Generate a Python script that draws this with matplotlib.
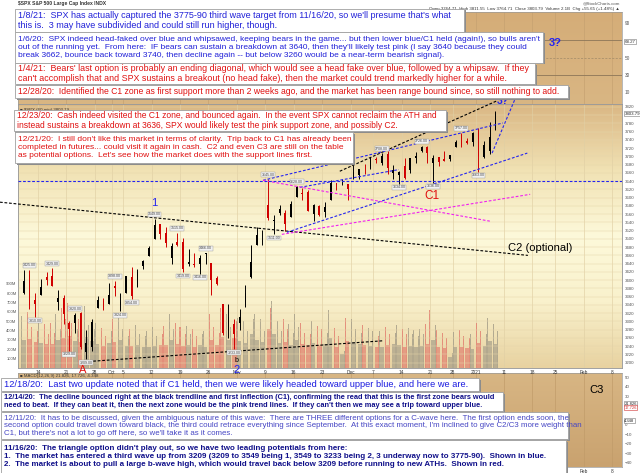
import numpy as np
import pandas as pd
import matplotlib
matplotlib.use("Agg")
import matplotlib.pyplot as plt
from matplotlib.patches import Rectangle
from matplotlib.colors import LinearSegmentedColormap

plt.rcParams['font.family'] = ['Liberation Sans', 'DejaVu Sans']

W, H = 640, 473

# daily summary of the 60 min SPX bars, 9 Sep 2020 .. 7 Jan 2021
opens = [3369, 3412, 3352, 3364, 3407, 3411, 3347, 3357, 3295, 3295, 3320, 3226, 3237, 3333, 3350, 3342,
         3385, 3339, 3368, 3408, 3384, 3434, 3459, 3500, 3535, 3515, 3453, 3493, 3493, 3439, 3439, 3439,
         3464, 3441, 3404, 3342, 3278, 3293,
         3297, 3336, 3407, 3485, 3509, 3583, 3544, 3563, 3563, 3553, 3601, 3611, 3613, 3560, 3579, 3566,
         3595, 3635, 3638, 3634,
         3645, 3654, 3668, 3671, 3694, 3683, 3706, 3659, 3656, 3676, 3666, 3696, 3714, 3722, 3684, 3698,
         3694, 3694, 3723, 3751, 3737, 3734,
         3764, 3699, 3713, 3764]
highs = [3424, 3425, 3368, 3403, 3419, 3429, 3375, 3363, 3300, 3320, 3323, 3279, 3307, 3361, 3357, 3393,
         3398, 3370, 3411, 3431, 3426, 3448, 3482, 3549, 3535, 3528, 3489, 3515, 3502, 3476, 3465, 3461,
         3466, 3441, 3410, 3342, 3342, 3305,
         3330, 3389, 3486, 3529, 3521, 3645, 3557, 3582, 3569, 3593, 3628, 3624, 3619, 3585, 3582, 3590,
         3643, 3635, 3644, 3634,
         3678, 3670, 3682, 3699, 3698, 3708, 3713, 3678, 3665, 3697, 3695, 3711, 3726, 3726, 3703, 3698,
         3712, 3704, 3740, 3757, 3744, 3760,
         3770, 3737, 3784, 3811]
lows = [3366, 3329, 3310, 3364, 3389, 3385, 3328, 3293, 3229, 3271, 3233, 3209, 3229, 3333, 3327, 3341,
        3361, 3324, 3368, 3354, 3384, 3428, 3458, 3500, 3500, 3480, 3440, 3483, 3419, 3435, 3433, 3416,
        3440, 3364, 3388, 3268, 3260, 3233,
        3280, 3336, 3405, 3485, 3485, 3547, 3511, 3557, 3519, 3553, 3601, 3594, 3567, 3543, 3556, 3553,
        3595, 3618, 3630, 3594,
        3645, 3644, 3657, 3670, 3684, 3678, 3657, 3645, 3634, 3645, 3660, 3685, 3710, 3685, 3636, 3677,
        3689, 3689, 3723, 3723, 3730, 3726,
        3663, 3695, 3705, 3764]
closes = [3399, 3339, 3341, 3384, 3401, 3385, 3357, 3319, 3281, 3316, 3237, 3247, 3298, 3352, 3335, 3363,
          3381, 3348, 3409, 3361, 3419, 3447, 3477, 3534, 3512, 3489, 3483, 3484, 3427, 3443, 3436, 3453,
          3465, 3401, 3391, 3271, 3310, 3270,
          3310, 3369, 3443, 3510, 3509, 3551, 3546, 3573, 3537, 3585, 3627, 3610, 3568, 3582, 3558, 3578,
          3635, 3630, 3638, 3622,
          3662, 3669, 3667, 3699, 3692, 3702, 3673, 3668, 3663, 3647, 3695, 3701, 3722, 3709, 3695, 3687,
          3690, 3703, 3735, 3727, 3732, 3756,
          3701, 3727, 3748, 3804]

# hourly volume in millions: opening hour, typical middle hour, closing hour
vol_first = [560, 600, 520, 500, 470, 480, 580, 640, 700, 560, 520, 660, 560, 480, 430, 500,
             520, 580, 430, 420, 460, 420, 400, 440, 460, 450, 580, 480, 440, 450, 420, 450,
             400, 580, 460, 640, 580, 620,
             540, 500, 720, 580, 520, 900, 720, 500, 520, 470, 580, 480, 450, 500, 450, 480,
             620, 430, 260, 540,
             520, 470, 460, 430, 410, 400, 440, 470, 460, 420, 430, 410, 420, 470, 580, 410,
             370, 200, 390, 410, 370, 360,
             480, 430, 540, 470]
vol_mid = [300, 310, 280, 270, 260, 260, 300, 320, 340, 290, 280, 330, 290, 260, 240, 270,
           280, 300, 240, 240, 250, 230, 220, 240, 250, 250, 300, 260, 240, 250, 230, 250,
           220, 300, 250, 330, 300, 320,
           290, 270, 360, 300, 280, 420, 360, 270, 280, 250, 300, 260, 250, 270, 250, 260,
           320, 230, 150, 290,
           280, 260, 250, 240, 230, 230, 250, 260, 250, 230, 240, 230, 240, 260, 300, 230,
           210, 120, 220, 230, 210, 200,
           270, 240, 290, 260]
vol_last = [420, 440, 400, 380, 360, 380, 420, 520, 480, 420, 420, 460, 420, 380, 340, 400,
            400, 420, 340, 380, 360, 340, 320, 340, 360, 360, 420, 440, 360, 360, 340, 360,
            340, 440, 380, 480, 440, 500,
            420, 400, 520, 440, 400, 640, 520, 400, 420, 380, 440, 380, 360, 400, 420, 380,
            460, 340, 180, 460,
            420, 380, 380, 400, 340, 340, 360, 380, 380, 360, 360, 340, 360, 620, 460, 360,
            320, 160, 320, 340, 320, 340,
            400, 360, 420, 400]

tick_dates = ["2020-09-14", "2020-09-21", "2020-09-28", "2020-10-01", "2020-10-05", "2020-10-12",
              "2020-10-19", "2020-10-26", "2020-11-02", "2020-11-09", "2020-11-16", "2020-11-23",
              "2020-12-01", "2020-12-07", "2020-12-14", "2020-12-21", "2020-12-28", "2021-01-04",
              "2021-01-11", "2021-01-19", "2021-01-25", "2021-02-01", "2021-02-08"]
tick_labels = ["14", "21", "28", "Oct", "5", "12", "19", "26", "Nov", "9", "16", "23",
               "Dec", "7", "14", "21", "28", "2021", "11", "18", "25", "Feb", "8"]

pivot_highs = ["2020-09-10", "2020-09-16", "2020-09-22", "2020-10-01", "2020-10-12", "2020-10-16",
               "2020-10-23", "2020-11-09", "2020-11-16", "2020-12-08", "2020-12-17", "2020-12-29"]
pivot_lows = ["2020-09-11", "2020-09-21", "2020-09-24", "2020-10-02", "2020-10-06", "2020-10-19",
              "2020-10-22", "2020-10-30", "2020-11-10", "2020-12-11", "2020-12-21", "2021-01-04"]

# trend lines drawn on the chart: colour, (day offsets from 14 Sep), (prices)
trend_lines = [
    ("black", (-6.7, 86.2), (3589, 3460)),
    ("black", (53.1, 80.8), (3664, 3835)),
    ("#2424f0", (39.6, 81.8), (3642, 3781)),
    ("#2424f0", (46.1, 63.5), (3625, 3668)),
    ("#2424f0", (43.8, 86.1), (3516, 3708)),
    ("#2424f0", (79.9, 86.8), (3708, 3932)),
    ("#f020f0", (39.6, 79.5), (3642, 3543)),
    ("#f020f0", (42.9, 86.6), (3511, 3608)),
    ("black", (8.1, 60.7), (3202, 3253)),
]
support_level = 3640

RED = "#e01010"
BLUE = "#2020d8"
NAVY = "#10108a"

boxes = [
    (15, 9, 464, 32, BLUE, 6.5, "normal", 1.12,
     "1/8/21:  SPX has actually captured the 3775-90 third wave target from 11/16/20, so we'll presume that's what\n"
     "this is.  3 may have subdivided and could still run higher, though."),
    (15, 32, 543, 63, BLUE, 6.05, "normal", 1.12,
     "1/6/20:  SPX indeed head-faked over blue and whipsawed, keeping bears in the game... but then lower blue/C1 held (again!), so bulls aren't\n"
     "out of the running yet.  From here:  IF bears can sustain a breakdown at 3640, then they'll likely test pink (I say 3640 because they could\n"
     "break 3662, bounce back toward 3740, then decline again -- but below 3260 would be a near-term bearish signal)."),
    (15, 63, 535, 84, RED, 6.4, "normal", 1.08,
     "1/4/21:  Bears' last option is probably an ending diagonal, which would see a head fake over blue, followed by a whipsaw.  If they\n"
     "can't accomplish that and SPX sustains a breakout (no head fake), then the market could trend markedly higher for a while."),
    (15, 85, 568, 98, RED, 6.25, "normal", 1.2,
     "12/28/20:  Identified the C1 zone as first support more than 2 weeks ago, and the market has been range bound since, so still nothing to add."),
    (14, 110, 446, 131, RED, 6.15, "normal", 1.12,
     "12/23/20:  Cash indeed visited the C1 zone, and bounced again.  In the event SPX cannot reclaim the ATH and\n"
     "instead sustains a breakdown at 3636, SPX would likely test the pink support zone, and possibly C2."),
    (15, 132, 353, 163, RED, 6.0, "normal", 1.15,
     "12/21/20:  I still don't like this market in terms of clarity.  Trip back to C1 has already been\n"
     "completed in futures... could visit it again in cash.  C2 and even C3 are still on the table\n"
     "as potential options.  Let's see how the market does with the support lines first."),
    (1, 378, 479, 391, "#1c1ce0", 6.7, "normal", 1.2,
     "12/18/20:  Last two update noted that if C1 held, then we were likely headed toward upper blue, and here we are."),
    (1, 392, 503, 411, NAVY, 5.3, "bold", 1.15,
     "12/14/20:  The decline bounced right at the black trendline and first inflection (C1), confirming the read that this is the first zone bears would\n"
     "need to beat.  If they can beat it, then the next zone would be the pink trend lines.  If they can't then we may see a trip toward upper blue."),
    (1, 412, 568, 439, "#4646c4", 5.65, "normal", 1.1,
     "12/11/20:  It has to be discussed, given the ambiguous nature of this wave:  There are THREE different options for a C-wave here.  The first option ends soon, the\n"
     "second option could travel down toward black, the third could retrace everything since September.  At this exact moment, I'm inclined to give C2/C3 more weight than\n"
     "C1, but there's not a lot to go off here, so we'll take it as it comes."),
    (1, 440, 566, 473, NAVY, 5.8, "bold", 1.18,
     "11/16/20:  The triangle option didn't play out, so we have two leading potentials from here:\n"
     "1.  The market has entered a third wave up from 3209 (3209 to 3549 being 1, 3549 to 3233 being 2, 3 underway now to 3775-90).  Shown in blue.\n"
     "2.  The market is about to pull a large b-wave high, which would travel back below 3209 before running to new ATHs.  Shown in red."),
]

# trading calendar for the axis
trading = pd.bdate_range("2020-09-09", "2021-02-12", freq="C",
                         holidays=["2020-11-26", "2020-12-25", "2021-01-01", "2021-01-18"])
base = trading.get_loc(pd.Timestamp("2020-09-14"))


def xday(date):
    return trading.get_loc(pd.Timestamp(date)) - base


n = len(closes)
xs = np.array([xday(d) for d in trading[:n]]) + 0.5
XMIN, XMAX = -3.52, 102.76
ticks = [xday(d) for d in tick_dates]

fig = plt.figure(figsize=(6.4, 4.73), dpi=100)
fig.patch.set_facecolor("white")


def axes_px(x0, y0, x1, y1, z=0):
    ax = fig.add_axes([x0 / W, 1 - y1 / H, (x1 - x0) / W, (y1 - y0) / H])
    ax.set_zorder(z)
    for s in ax.spines.values():
        s.set_color("#9a9a9a")
        s.set_linewidth(0.5)
    return ax


def gradient(ax, colors):
    cmap = LinearSegmentedColormap.from_list("bg", colors)
    g = np.linspace(0, 1, 256).reshape(-1, 1)
    ax.imshow(g, extent=[0, 1, 0, 1], transform=ax.transAxes, aspect="auto",
              origin="lower", cmap=cmap, zorder=-10)


def vgrid(ax, color):
    for t in ticks:
        ax.axvline(t, color=color, lw=0.45, zorder=-5)


# ---- top indicator panel
ax_rsi = axes_px(18, 12, 622, 104)
gradient(ax_rsi, ["#d9b683", "#d5ad78"])
vgrid(ax_rsi, "#c4a070")
ax_rsi.axhline(70, color="#8c7658", lw=0.6)
ax_rsi.axhline(30, color="#8c7658", lw=0.6)
ax_rsi.axhline(50, color="#a08a68", lw=0.5, ls=(0, (3, 2)))
ax_rsi.set_xlim(XMIN, XMAX)
ax_rsi.set_ylim(-3.9, 102.8)
ax_rsi.set_xticks([])
ax_rsi.yaxis.tick_right()
ax_rsi.set_yticks([10, 30, 50, 90])
ax_rsi.tick_params(axis="y", labelsize=3.4, length=0, pad=2, colors="#555555")
ax_rsi.text(1.004, 68.3, "68.27", transform=ax_rsi.get_yaxis_transform(), fontsize=3.2,
            va="center", ha="left", color="#333333",
            bbox=dict(boxstyle="square,pad=0.15", fc="white", ec="#777777", lw=0.4))

# ---- price panel: volume underneath, price bars on top
ax_vol = axes_px(18, 104, 622, 368, z=0)
gradient(ax_vol, ["#e8d2a0", "#f9f1cc", "#fdf9da", "#f1e2b4", "#dab784"])
vgrid(ax_vol, "#e0cfa4")
up = np.array(closes) >= np.array(opens)
vcol = np.where(up, "#a8a08a", "#e28272")
ax_vol.bar(xs - 0.5 + 0.07, vol_first, width=0.13, align="edge", color=vcol, alpha=0.85, lw=0)
ax_vol.bar(xs - 0.5 + 0.22, vol_mid, width=0.58, align="edge", color=vcol, alpha=0.7, lw=0)
ax_vol.bar(xs - 0.5 + 0.83, vol_last, width=0.13, align="edge", color=vcol, alpha=0.85, lw=0)
ax_vol.set_xlim(XMIN, XMAX)
ax_vol.set_ylim(0, 2828)
ax_vol.set_xticks([])
ax_vol.set_yticks(range(100, 1000, 100))
ax_vol.set_yticklabels([f"{v}M" for v in range(100, 1000, 100)])
ax_vol.tick_params(axis="y", labelsize=3.0, length=0, pad=1, colors="#555555")

ax = axes_px(18, 104, 622, 368, z=1)
ax.patch.set_alpha(0)
for p in np.arange(3200, 3821, 20):
    ax.axhline(p, color="#e6d6aa", lw=0.35, zorder=0)

ccol = np.where(up, "black", "#d00000")
ax.vlines(xs, lows, highs, colors=ccol, lw=0.7, zorder=3)
ax.bar(xs, np.array(closes) - np.array(opens), bottom=opens, width=0.3,
       color=ccol, lw=0, zorder=3)

for clr, (xa, xb), (pa, pb) in trend_lines:
    ax.plot([xa, xb], [pa, pb], color=clr, lw=0.8, ls=(0, (2.5, 1.6)), clip_on=False, zorder=4)
ax.axhline(support_level, color="#2424f0", lw=0.8, ls=(0, (2.5, 1.6)), zorder=4)

lbl_box = dict(boxstyle="square,pad=0.12", fc="#f2f2f2", ec="#9a9a9a", lw=0.3)
for d in pivot_highs:
    i = xday(d) + base
    ax.text(xs[i], highs[i] + 6, f"{highs[i]:.2f}", fontsize=2.6, ha="center", va="bottom",
            color="#444444", bbox=lbl_box, zorder=5)
for d in pivot_lows:
    i = xday(d) + base
    ax.text(xs[i], lows[i] - 4, f"{lows[i]:.2f}", fontsize=2.6, ha="center", va="top",
            color="#444444", bbox=lbl_box, zorder=5)

ax.text(20.4, 3586, "1", color="#2424f0", fontsize=8, ha="center", va="center", zorder=6)
ax.text(7.9, 3183, "A", color=RED, fontsize=8, ha="center", va="center", clip_on=False, zorder=6)
ax.text(35.0, 3206, "b", color="black", fontsize=5, ha="center", va="center", zorder=6)
ax.text(35.0, 3183, "2", color="#2424f0", fontsize=8, ha="center", va="center", clip_on=False, zorder=6)
ax.text(69.3, 3603, "C1", color=RED, fontsize=8.5, ha="center", va="center", zorder=6)
ax.text(82.7, 3479, "C2 (optional)", color="black", fontsize=8, ha="left", va="center", zorder=6)
ax.text(81.8, 3834, "3?", color="#2424f0", fontsize=7.5, fontweight="bold", ha="center",
        va="center", clip_on=False, zorder=6)

ax.set_xlim(XMIN, XMAX)
ax.set_ylim(3187, 3827)
ax.set_xticks(ticks)
ax.set_xticklabels(tick_labels)
ax.tick_params(axis="x", labelsize=3.4, length=0, pad=1.2, colors="#333333")
ax.yaxis.tick_right()
price_ticks = [p for p in range(3200, 3821, 20) if p != 3800]
ax.set_yticks(price_ticks)
ax.tick_params(axis="y", labelsize=3.2, length=0, pad=2, colors="#555555")
ax.text(1.004, closes[-1] - 0.2, "3803.79", transform=ax.get_yaxis_transform(),
        fontsize=3.2, va="center", ha="left", color="#222222",
        bbox=dict(boxstyle="square,pad=0.15", fc="white", ec="#777777", lw=0.4))
ax.text(0.004, 0.985, "■ $SPX (60 min) 3803.79", transform=ax.transAxes, fontsize=3.2,
        va="top", ha="left", color="#333333", zorder=6)

# ---- MACD panel
ax_m = axes_px(18, 373, 622, 467)
gradient(ax_m, ["#c9a26f", "#d8b684"])
vgrid(ax_m, "#bf9a68")
ax_m.set_xlim(XMIN, XMAX)
ax_m.set_ylim(-44.2, 54.2)
ax_m.set_xticks(ticks)
ax_m.set_xticklabels(tick_labels)
ax_m.tick_params(axis="x", labelsize=3.4, length=0, pad=1.2, colors="#333333")
ax_m.yaxis.tick_right()
ax_m.set_yticks([-40, -30, -20, -10, 0, 30, 40, 50])
ax_m.tick_params(axis="y", labelsize=3.2, length=0, pad=2, colors="#555555")
for val, ec, tc in [(21.826, "#777777", "#222222"), (17.726, "#d03030", "#d03030"), (4.348, "#777777", "#222222")]:
    ax_m.text(1.004, val, f"{val:.3f}", transform=ax_m.get_yaxis_transform(), fontsize=3.0,
              va="center", ha="left", color=tc,
              bbox=dict(boxstyle="square,pad=0.12", fc="white", ec=ec, lw=0.4))
ax_m.text(0.004, 0.985, "■ MACD(12,26,9) 21.826, 17.726, 4.348", transform=ax_m.transAxes,
          fontsize=3.2, va="top", ha="left", color="#333333")

# ---- header
fig.text(18 / W, 1 - 3.5 / H, "$SPX S&P 500 Large Cap Index INDX", fontsize=3.6, va="center",
         ha="left", color="#333333", fontweight="bold")
fig.text(620 / W, 1 - 3 / H, "@StockCharts.com", fontsize=3.2, va="center", ha="right", color="#555555")
fig.text(620 / W, 1 - 9 / H,
         "Open 3764.71  High 3811.55  Low 3764.71  Close 3803.79  Volume 2.1B  Chg +55.65 (+1.48%) ▲",
         fontsize=3.2, va="center", ha="right", color="#333333")

fig.text(555 / W, 1 - 43 / H, "3?", color="#2424f0", fontsize=8, fontweight="bold",
         ha="center", va="center")
fig.text(597 / W, 1 - 390 / H, "C3", color="black", fontsize=8, ha="center", va="center")

# ---- commentary boxes
for x0, y0, x1, y1, col, fs, wt, ls, txt in boxes:
    fig.add_artist(Rectangle((x0 / W + 1.5 / W, 1 - y1 / H - 1.5 / H), (x1 - x0) / W, (y1 - y0) / H,
                             transform=fig.transFigure, fc="#8c8c8c", ec="none", zorder=5))
    fig.add_artist(Rectangle((x0 / W, 1 - y1 / H), (x1 - x0) / W, (y1 - y0) / H,
                             transform=fig.transFigure, fc="white", ec="#a0a0a0", lw=0.6, zorder=6))
    fig.text((x0 + 3) / W, 1 - (y0 + y1) / 2 / H, txt, color=col, fontsize=fs, fontweight=wt,
             ha="left", va="center", linespacing=ls, zorder=7)

fig.savefig("out.png", dpi=100)
